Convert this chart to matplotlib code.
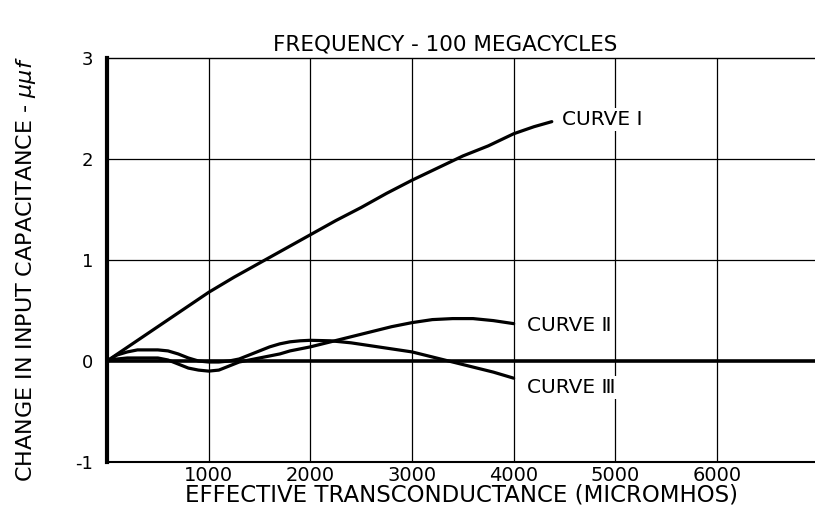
import matplotlib
matplotlib.use("Agg")
import matplotlib.pyplot as plt

# values (x in micromhos, y in micro-micro-farads)
x_c1 = [0, 250, 500, 750, 1000, 1250, 1500, 1750, 2000, 2250, 2500, 2750,
        3000, 3250, 3500, 3750, 4000, 4200, 4375]
y_c1 = [0, 0.17, 0.34, 0.51, 0.68, 0.83, 0.97, 1.11, 1.25, 1.39, 1.52, 1.66,
        1.79, 1.91, 2.03, 2.13, 2.25, 2.32, 2.37]

x_c2 = [0, 100, 200, 300, 400, 500, 600, 700, 800, 900, 1000, 1100, 1200,
        1300, 1400, 1500, 1600, 1700, 1800, 1900, 2000, 2200, 2400, 2600,
        2800, 3000, 3200, 3400, 3600, 3800, 4000]
y_c2 = [0, 0.02, 0.03, 0.03, 0.03, 0.03, 0.01, -0.03, -0.07, -0.09, -0.10,
        -0.09, -0.05, -0.01, 0.01, 0.03, 0.05, 0.07, 0.10, 0.12, 0.14, 0.19,
        0.24, 0.29, 0.34, 0.38, 0.41, 0.42, 0.42, 0.40, 0.37]

x_c3 = [0, 100, 200, 300, 400, 500, 600, 700, 800, 900, 1000, 1100, 1200,
        1300, 1400, 1500, 1600, 1700, 1800, 1900, 2000, 2200, 2400, 2600,
        2800, 3000, 3200, 3400, 3600, 3800, 4000]
y_c3 = [0, 0.06, 0.09, 0.11, 0.11, 0.11, 0.10, 0.07, 0.03, 0.0, -0.01,
        -0.01, 0.0, 0.02, 0.06, 0.10, 0.14, 0.17, 0.19, 0.20, 0.205, 0.20,
        0.18, 0.15, 0.12, 0.09, 0.04, -0.01, -0.06, -0.11, -0.17]

x_ticks = [1000, 2000, 3000, 4000, 5000, 6000]
y_ticks = [-1, 0, 1, 2, 3]

fig = plt.figure(figsize=(8.15, 5.18), dpi=100)
ax = fig.add_axes([0.1313, 0.1081, 0.8687, 0.7799])
ax.set_xlim(0, 6964)
ax.set_ylim(-1, 3)

# grid
for xv in x_ticks:
    ax.axvline(xv, color="black", lw=0.9, zorder=1)
for yv in [1, 2]:
    ax.axhline(yv, color="black", lw=0.9, zorder=1)
ax.axhline(0, color="black", lw=2.6, zorder=2)

ax.spines["right"].set_visible(False)
ax.spines["left"].set_linewidth(3.0)
ax.spines["bottom"].set_linewidth(1.5)
ax.spines["top"].set_linewidth(1.0)

lw = 2.3
ax.plot(x_c1, y_c1, color="black", lw=lw, zorder=3, solid_capstyle="round")
ax.plot(x_c2, y_c2, color="black", lw=lw, zorder=3, solid_capstyle="round")
ax.plot(x_c3, y_c3, color="black", lw=lw, zorder=3, solid_capstyle="round")

box = dict(facecolor="white", edgecolor="none", pad=1.5)
ax.text(4475, 2.39, "CURVE \u2160", fontsize=14.5, va="center", ha="left",
        bbox=box, zorder=4)
ax.text(4131, 0.35, "CURVE \u2161", fontsize=14.5, va="center", ha="left",
        bbox=box, zorder=4)
ax.text(4131, -0.26, "CURVE \u2162", fontsize=14.5, va="center", ha="left",
        bbox=box, zorder=4)

ax.set_xticks(x_ticks)
ax.set_xticklabels([str(v) for v in x_ticks], fontsize=14)
ax.set_yticks(y_ticks)
ax.set_yticklabels([str(v) for v in y_ticks], fontsize=13)
ax.tick_params(axis="both", length=0)
ax.tick_params(axis="y", pad=10)
ax.tick_params(axis="x", pad=3)

ax.set_xlabel("EFFECTIVE TRANSCONDUCTANCE (MICROMHOS)", fontsize=16.5, labelpad=-1)
fig.text(0.032, 0.48, "CHANGE IN INPUT CAPACITANCE - $\\mu\\mu f$",
         rotation=90, fontsize=16, ha="center", va="center")
fig.text(0.546, 0.915, "FREQUENCY - 100 MEGACYCLES", fontsize=15.5,
         ha="center", va="center")

fig.savefig("out.png", dpi=100)
